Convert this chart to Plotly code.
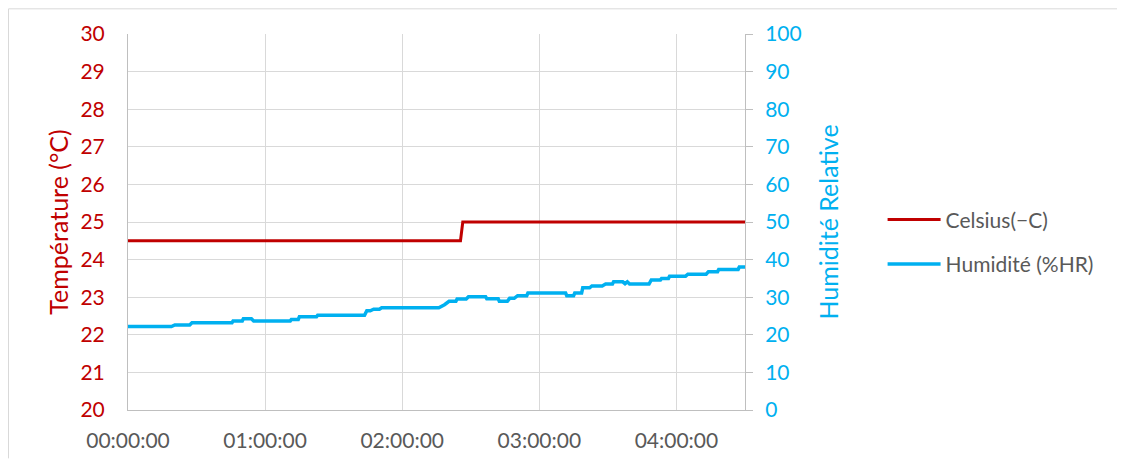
import plotly.graph_objects as go

DAY = "2024-01-01 "

temp_times = ["00:00:00", "02:25:30", "02:26:30", "04:30:00"]
temp_values = [24.5, 24.5, 25.0, 25.0]

hum_times = [
    "00:00:00", "00:19:00", "00:20:30", "00:27:00", "00:28:00", "00:45:30",
    "00:46:00", "00:50:00", "00:50:30", "00:54:00", "00:55:00", "01:11:00",
    "01:11:30", "01:14:30", "01:15:00", "01:22:30", "01:23:00", "01:43:30",
    "01:44:30", "01:46:00", "01:47:30", "01:50:00", "01:51:00", "02:16:00",
    "02:18:30", "02:20:30", "02:23:30", "02:24:00", "02:28:00", "02:29:00",
    "02:36:30", "02:37:00", "02:42:00", "02:42:30", "02:46:00", "02:47:00",
    "02:49:00", "02:50:30", "02:54:30", "02:55:00", "03:11:30", "03:12:00",
    "03:15:00", "03:15:30", "03:18:30", "03:19:00", "03:22:00", "03:23:00",
    "03:27:30", "03:29:00", "03:32:00", "03:32:30", "03:36:30", "03:37:30",
    "03:38:30", "03:39:30", "03:48:00", "03:49:00", "03:53:00", "03:53:30",
    "03:56:30", "03:57:00", "04:04:00", "04:05:00", "04:13:00", "04:14:00",
    "04:18:00", "04:18:30", "04:27:00", "04:27:30", "04:30:00",
]
hum_values = [
    22.2, 22.2, 22.6, 22.6, 23.2, 23.2,
    23.7, 23.7, 24.3, 24.3, 23.7, 23.7,
    24.1, 24.1, 24.8, 24.8, 25.2, 25.2,
    26.4, 26.4, 26.8, 26.8, 27.2, 27.2,
    28.0, 28.9, 28.9, 29.5, 29.5, 30.1,
    30.1, 29.6, 29.6, 28.9, 28.9, 29.7,
    29.7, 30.4, 30.4, 31.1, 31.1, 30.4,
    30.4, 31.1, 31.1, 32.5, 32.5, 33.0,
    33.0, 33.5, 33.5, 34.1, 34.1, 33.6,
    34.1, 33.5, 33.5, 34.6, 34.6, 35.0,
    35.0, 35.6, 35.6, 36.1, 36.1, 36.8,
    36.8, 37.4, 37.4, 38.0, 38.0,
]

x_range = ["00:00:00", "04:30:00"]

RED = "#C00000"
BLUE = "#00B0F0"
GRID = "#D9D9D9"
AXIS = "#BFBFBF"
TXT = "#595959"
FONT = "Lato"

fig = go.Figure()
fig.add_trace(go.Scatter(
    x=[DAY + t for t in temp_times], y=temp_values, mode="lines",
    name="Celsius(\u2212C)", line=dict(color=RED, width=3),
    legendgroup="a", yaxis="y",
))
fig.add_trace(go.Scatter(
    x=[DAY + t for t in hum_times], y=hum_values, mode="lines",
    name="Humidité (%HR)", line=dict(color=BLUE, width=3.5),
    legendgroup="b", yaxis="y2",
))

# page body adds an 8px offset; figure sized to fit inside it
W, H = 1109, 456
L, T = 120, 26
PW, PH = 617, 381

fig.update_layout(
    width=W, height=H,
    margin=dict(l=L, r=W - L - PW, t=T, b=H - T - PH),
    paper_bgcolor="white", plot_bgcolor="white",
    font=dict(family=FONT, color=TXT),
    showlegend=True,
    legend=dict(
        x=1.223, xanchor="left", y=0.447, yanchor="middle",
        font=dict(size=21, color=TXT, family=FONT),
        tracegroupgap=14, itemwidth=53, bgcolor="rgba(0,0,0,0)",
    ),
    xaxis=dict(
        type="date",
        range=[DAY + x_range[0], DAY + x_range[1]],
        dtick=3600000, tick0=DAY + "00:00:00",
        tickformat="%H:%M:%S",
        showgrid=True, gridcolor=GRID, gridwidth=1,
        showline=True, linecolor=AXIS, linewidth=1,
        ticks="", ticklabelstandoff=12,
        tickfont=dict(size=21, color=TXT, family=FONT),
        zeroline=False,
    ),
    yaxis=dict(
        range=[20, 30], dtick=1,
        showgrid=True, gridcolor=GRID, gridwidth=1,
        showline=True, linecolor=AXIS, linewidth=1,
        ticks="", ticklabelstandoff=18,
        tickfont=dict(size=21, color=RED, family=FONT),
        title=dict(text="Température (°C)", font=dict(size=25, color=RED, family=FONT), standoff=4),
        zeroline=False,
    ),
    yaxis2=dict(
        range=[0, 100], dtick=10, overlaying="y", side="right",
        showgrid=False,
        showline=True, linecolor=AXIS, linewidth=1,
        ticks="outside", ticklen=7, tickcolor=AXIS, tickwidth=1,
        ticklabelstandoff=8,
        tickfont=dict(size=21, color=BLUE, family=FONT),
        title=dict(text="Humidité Relative", font=dict(size=25, color=BLUE, family=FONT), standoff=19),
        zeroline=False,
    ),
)

# chart-area border (top and left edges visible)
bx0 = (0.5 - L) / PW
by1 = (T + PH - 0.5) / PH
fig.add_shape(type="line", xref="paper", yref="paper", x0=bx0, x1=(W - L) / PW,
              y0=by1, y1=by1, line=dict(color=GRID, width=1))
fig.add_shape(type="line", xref="paper", yref="paper", x0=bx0, x1=bx0,
              y0=by1, y1=-(H - T - PH) / PH, line=dict(color=GRID, width=1))

fig.write_html("out.html")
